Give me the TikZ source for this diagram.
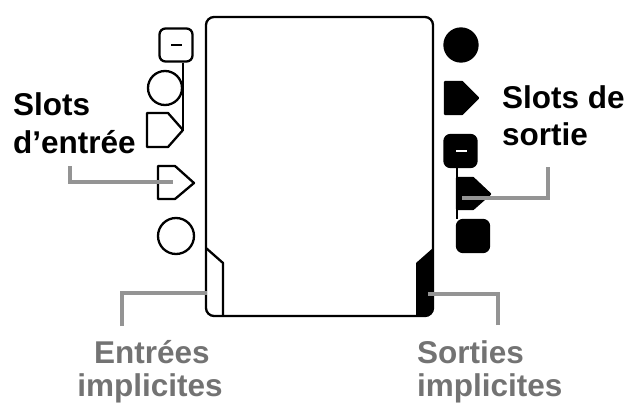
\documentclass[tikz,border=0pt]{standalone}
\usepackage{fontspec}
\setmainfont{Liberation Sans}
\begin{document}
\begin{tikzpicture}[x=1pt,y=-1pt,
  shp/.style={draw=black,line width=2.3pt,line join=round},
  fsh/.style={draw=black,fill=black,line width=2.3pt,line join=round},
  lead/.style={draw=black!42,line width=3.2pt},
  lbl/.style={font=\fontsize{31.5}{38}\selectfont\bfseries,inner sep=0pt},
  glbl/.style={lbl,text=black!55}]
\useasboundingbox (0,0) rectangle (625,407);
% main body
\begin{scope}
  \clip[rounded corners=8pt] (206,17) rectangle (433,316);
  \fill (416,330) -- (416,263) -- (433,248) -- (445,248) -- (445,330) -- cycle;
\end{scope}
\node[shp,rounded corners=8pt,minimum width=227pt,minimum height=299pt,inner sep=0pt] (body) at (319.5,166.5) {};
\draw[shp] (206,248) -- (223,263) -- (223,316);
% left slots
\node[shp,rounded corners=6pt,minimum size=33pt,inner sep=0pt] (lsq) at (176,45) {};
\draw[shp] (171,45) -- (182,45);
\node[shp,circle,minimum size=34pt,inner sep=0pt] (lc1) at (165,88) {};
\draw[shp] (147,113) -- (168,113) -- (183,130) coordinate (lp1tip) -- (168,147) -- (147,147) -- cycle;
\draw[shp] (lsq.south -| lp1tip) -- (lp1tip);
\draw[shp] (158,166) -- (175,166) -- (194,183) coordinate (lp2tip) -- (175,199) -- (158,199) -- cycle;
\coordinate (lp2in) at (173,182);
\node[shp,circle,minimum size=36pt,inner sep=0pt] (lc2) at (176,236) {};
% right slots
\node[fsh,circle,minimum size=33pt,inner sep=0pt] (rc1) at (461,45) {};
\filldraw[fsh] (445,82) -- (462,82) -- (478,98) -- (462,114) -- (445,114) -- cycle;
\node[fsh,rounded corners=6pt,minimum size=32pt,inner sep=0pt] (rsq) at (460.5,151) {};
\draw[white,line width=2.3pt] (456,151) -- (467,151);
\filldraw[fsh] (457,178) -- (473,178) -- (490,194) coordinate (rp2tip) -- (473,209) -- (457,209) -- cycle;
\node[fsh,rounded corners=6pt,minimum size=32pt,inner sep=0pt] (rsq2) at (473,236) {};
\draw[shp] (rsq.south -| 457,0) -- (rsq2.north -| 457,0);
\coordinate (rp2in) at (462,198);
% labels
\node[lbl,anchor=base west] (lin1) at (13,115) {Slots};
\node[lbl,anchor=base west] (lin2) at (13,153) {d’entrée};
\node[lbl,anchor=base west] (lout1) at (502,108) {Slots de};
\node[lbl,anchor=base west] (lout2) at (502,145) {sortie};
\node[glbl,anchor=base] (ie1) at (152,363) {Entrées};
\node[glbl,anchor=base] (ie2) at (150,396) {implicites};
\node[glbl,anchor=base west] (is1) at (417,363) {Sorties};
\node[glbl,anchor=base west] (is2) at (417,396) {implicites};
% leader lines
\coordinate (a1) at (70,166);
\draw[lead] (a1) |- (lp2in);
\coordinate (a2) at (548,167);
\draw[lead] (a2) |- (rp2in);
\coordinate (a3) at (122,326);
\coordinate (a3e) at (207,293);
\draw[lead] (a3) |- (a3e);
\coordinate (a4) at (498,325);
\coordinate (a4e) at (428,294);
\draw[lead] (a4) |- (a4e);
\end{tikzpicture}
\end{document}
